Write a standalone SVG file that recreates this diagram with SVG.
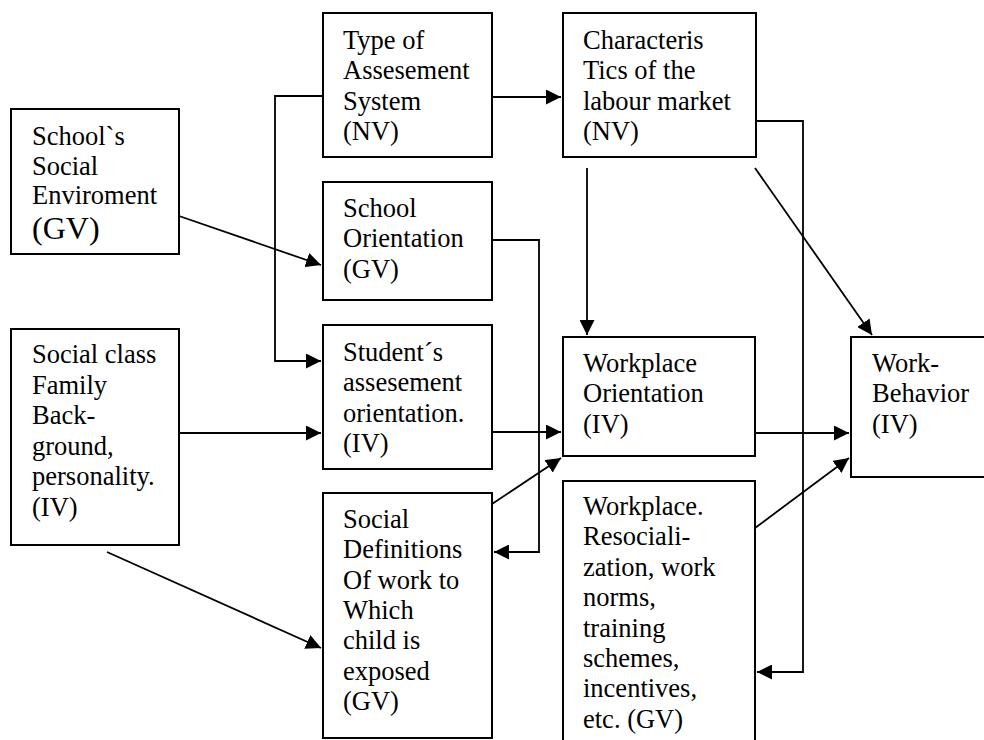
<svg xmlns="http://www.w3.org/2000/svg" width="984" height="740" viewBox="0 0 984 740">
<style>
.box{fill:#fff;stroke:#000;stroke-width:2}
text{font-family:'Times New Roman','Liberation Serif',Times,'DejaVu Serif',serif;font-size:26.5px;fill:#000}
.big{font-size:32px}
.c{fill:none;stroke:#000;stroke-width:1.8}
</style>
<defs>
<marker id="ah" markerUnits="userSpaceOnUse" markerWidth="16" markerHeight="15" refX="15" refY="7.5" orient="auto">
<path d="M0,0 L15,7.5 L0,15 z" fill="#000"/>
</marker>
</defs>
<rect width="984" height="740" fill="#fff"/>
<g id="connectors">
<path class="c" d="M323,96 H275 V361 H321" marker-end="url(#ah)"/>
<path class="c" d="M492,97 H561" marker-end="url(#ah)"/>
<path class="c" d="M179,216 L321,265" marker-end="url(#ah)"/>
<path class="c" d="M492,240 H539 V552 H494" marker-end="url(#ah)"/>
<path class="c" d="M179,433 H321" marker-end="url(#ah)"/>
<path class="c" d="M107,552 L321,648" marker-end="url(#ah)"/>
<path class="c" d="M492,432 H561" marker-end="url(#ah)"/>
<path class="c" d="M492,504 L561,458" marker-end="url(#ah)"/>
<path class="c" d="M587,168 V335" marker-end="url(#ah)"/>
<path class="c" d="M756,121 H803 V672 H757" marker-end="url(#ah)"/>
<path class="c" d="M755,168 L872,335" marker-end="url(#ah)"/>
<path class="c" d="M755,433 H849" marker-end="url(#ah)"/>
<path class="c" d="M755,528 L849,458" marker-end="url(#ah)"/>
</g>
<g id="school_env">
<rect class="box" x="11" y="109" width="168" height="145"/>
<text x="32" y="145">School`s</text>
<text x="32" y="175">Social</text>
<text x="32" y="204">Enviroment</text>
<text class="big" x="32" y="239">(GV)</text>
</g>
<g id="social_class">
<rect class="box" x="11" y="329" width="168" height="216"/>
<text x="32" y="363">Social class</text>
<text x="32" y="394">Family</text>
<text x="32" y="424">Back-</text>
<text x="32" y="455">ground,</text>
<text x="32" y="485">personality.</text>
<text x="32" y="516">(IV)</text>
</g>
<g id="type_assessment">
<rect class="box" x="323" y="13" width="169" height="144"/>
<text x="343" y="49">Type of</text>
<text x="343" y="79">Assesement</text>
<text x="343" y="110">System</text>
<text x="343" y="140">(NV)</text>
</g>
<g id="school_orientation">
<rect class="box" x="323" y="182" width="169" height="118"/>
<text x="343" y="217">School</text>
<text x="343" y="247">Orientation</text>
<text x="343" y="278">(GV)</text>
</g>
<g id="students_orientation">
<rect class="box" x="323" y="325" width="169" height="144"/>
<text x="343" y="361">Student´s</text>
<text x="343" y="391">assesement</text>
<text x="343" y="422">orientation.</text>
<text x="343" y="452">(IV)</text>
</g>
<g id="social_definitions">
<rect class="box" x="323" y="493" width="169" height="245"/>
<text x="343" y="528">Social</text>
<text x="343" y="558">Definitions</text>
<text x="343" y="589">Of work to</text>
<text x="343" y="619">Which</text>
<text x="343" y="649">child is</text>
<text x="343" y="680">exposed</text>
<text x="343" y="710">(GV)</text>
</g>
<g id="labour_market">
<rect class="box" x="563" y="13" width="193" height="144"/>
<text x="583" y="49">Characteris</text>
<text x="583" y="79">Tics of the</text>
<text x="583" y="110">labour market</text>
<text x="583" y="140">(NV)</text>
</g>
<g id="workplace_orientation">
<rect class="box" x="563" y="337" width="192" height="119"/>
<text x="583" y="372">Workplace</text>
<text x="583" y="402">Orientation</text>
<text x="583" y="433">(IV)</text>
</g>
<g id="workplace_resocialization">
<rect class="box" x="563" y="481" width="192" height="270"/>
<text x="583" y="515">Workplace.</text>
<text x="583" y="545">Resociali-</text>
<text x="583" y="576">zation, work</text>
<text x="583" y="606">norms,</text>
<text x="583" y="637">training</text>
<text x="583" y="667">schemes,</text>
<text x="583" y="697">incentives,</text>
<text x="583" y="728">etc. (GV)</text>
</g>
<g id="work_behavior">
<rect class="box" x="851" y="337" width="145" height="140"/>
<text x="872" y="372">Work-</text>
<text x="872" y="402">Behavior</text>
<text x="872" y="433">(IV)</text>
</g>
</svg>
